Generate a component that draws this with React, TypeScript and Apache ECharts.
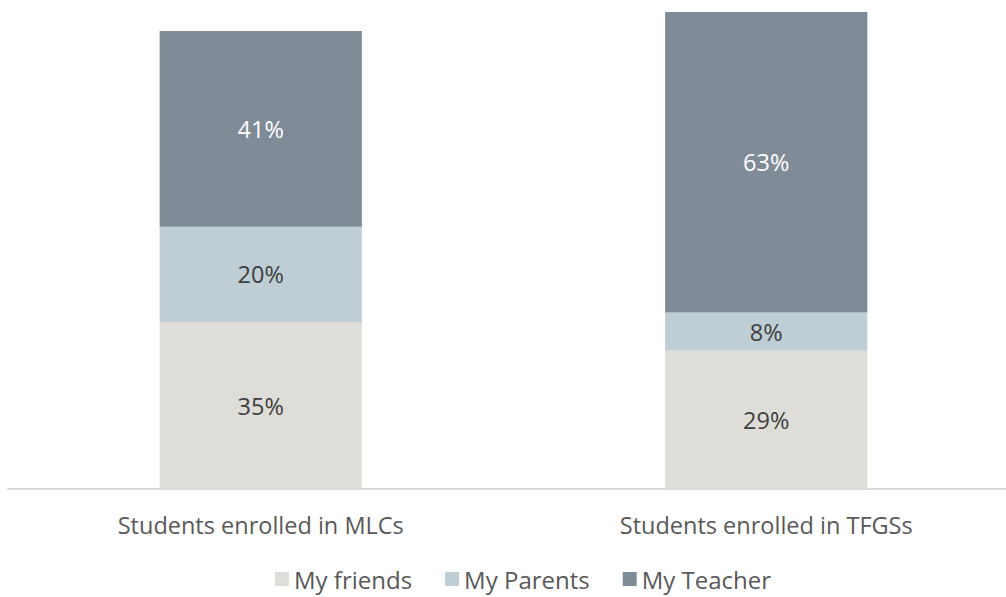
import React, { useEffect, useRef } from "react";
import * as echarts from "echarts";

const categories = ["Students enrolled in MLCs", "Students enrolled in TFGSs"];
const seriesNames = ["My friends", "My Parents", "My Teacher"];
const friends = [35, 29];
const parents = [20, 8];
const teacher = [41, 63];
const colors = ["#deddd8", "#bfcdd5", "#7f8c98"];
const labelColors = ["#404040", "#404040", "#ffffff"];

export default function App() {
  const ref = useRef<HTMLDivElement>(null);
  useEffect(() => {
    const chart = echarts.init(ref.current!, null, { renderer: "svg" });
    const values = [friends, parents, teacher];
    chart.setOption({
      animation: false,
      textStyle: { fontFamily: "Open Sans" },
      grid: { left: 8, top: 12, right: 0, bottom: 108, containLabel: false },
      legend: {
        bottom: 1,
        left: 270,
        itemWidth: 14,
        itemHeight: 14,
        itemGap: 33,
        icon: "rect",
        textStyle: { fontSize: 24, color: "#595959", fontFamily: "Open Sans" },
        data: seriesNames,
      },
      xAxis: {
        type: "category",
        data: categories,
        axisLine: { show: true, lineStyle: { color: "#d9d9d9", width: 2 } },
        axisTick: { show: false },
        axisLabel: { fontSize: 23.5, color: "#595959", margin: 24, fontFamily: "Open Sans" },
      },
      yAxis: {
        type: "value",
        min: 0,
        max: 100,
        show: false,
        splitLine: { show: false },
      },
      series: seriesNames.map((name, i) => ({
        name,
        type: "bar",
        stack: "total",
        barWidth: "40%",
        data: values[i],
        itemStyle: { color: colors[i] },
        label: {
          show: true,
          position: "inside",
          formatter: "{c}%",
          fontSize: 23.5,
          color: labelColors[i],
          fontFamily: "Open Sans",
        },
      })),
    });
    return () => chart.dispose();
  }, []);
  return (
    <div style={{ width: 1006, height: 597, position: "absolute", left: 0, top: 0, overflow: "hidden" }}>
      <div ref={ref} style={{ width: 1019, height: 597 }} />
    </div>
  );
}
